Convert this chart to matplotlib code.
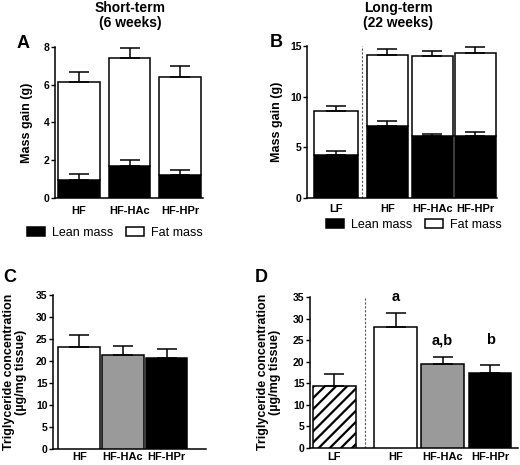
import matplotlib
matplotlib.use('Agg')
import matplotlib.pyplot as plt
from matplotlib.patches import Patch

plt.rcParams['font.family'] = ['Liberation Sans', 'DejaVu Sans']
plt.rcParams['hatch.linewidth'] = 1.6

# Panel A - short-term mass gain (g)
a_groups = ['HF', 'HF-HAc', 'HF-HPr']
a_lean = [0.95, 1.70, 1.22]
a_lean_err = [0.30, 0.30, 0.25]
a_total = [6.15, 7.40, 6.40]
a_total_err = [0.50, 0.55, 0.60]

# Panel B - long-term mass gain (g)
b_groups = ['LF', 'HF', 'HF-HAc', 'HF-HPr']
b_lean = [4.25, 7.10, 6.10, 6.15]
b_lean_err = [0.35, 0.45, 0.20, 0.35]
b_total = [8.60, 14.10, 14.00, 14.35]
b_total_err = [0.50, 0.65, 0.50, 0.55]

# Panel C - short-term triglyceride (ug/mg tissue)
c_groups = ['HF', 'HF-HAc', 'HF-HPr']
c_vals = [23.2, 21.4, 20.6]
c_err = [2.6, 1.9, 2.2]

# Panel D - long-term triglyceride (ug/mg tissue)
d_groups = ['LF', 'HF', 'HF-HAc', 'HF-HPr']
d_vals = [14.4, 28.1, 19.4, 17.3]
d_err = [2.7, 3.2, 1.8, 1.9]
d_letters = ['', 'a', 'a,b', 'b']

W, H = 520, 465
fig = plt.figure(figsize=(W / 100, H / 100), dpi=100)


def px_axes(left, top, right, bottom):
    return fig.add_axes([left / W, 1 - bottom / H, (right - left) / W, (bottom - top) / H])


def style(ax, yticks, xpad=6):
    for s in ['top', 'right']:
        ax.spines[s].set_visible(False)
    for s in ['left', 'bottom']:
        ax.spines[s].set_linewidth(1.1)
    ax.set_yticks(yticks)
    ax.set_ylim(yticks[0], yticks[-1])
    ax.tick_params(axis='y', direction='out', length=3, width=1.0, labelsize=7.5, pad=1)
    ax.tick_params(axis='x', length=0, labelsize=8, pad=xpad)
    for lab in ax.get_xticklabels() + ax.get_yticklabels():
        lab.set_fontweight('bold')


def errs(ax, x, y, e):
    ax.errorbar(x, y, yerr=[[0] * len(e), e], fmt='none', ecolor='black',
                elinewidth=1.1, capsize=7.5, capthick=1.1, zorder=5)


bar_kw = dict(edgecolor='black', linewidth=1.1, zorder=3)

# ---- A
axA = px_axes(55, 47, 203, 198)
xa = [0, 1, 2]
a_fat = [t - l for t, l in zip(a_total, a_lean)]
axA.bar(xa, a_lean, width=0.83, color='black', **bar_kw)
axA.bar(xa, a_fat, bottom=a_lean, width=0.83, color='white', **bar_kw)
errs(axA, xa, a_lean, a_lean_err)
errs(axA, xa, a_total, a_total_err)
axA.set_xlim(-0.475, 2.455)
axA.set_xticks(xa)
axA.set_xticklabels(a_groups)
style(axA, [0, 2, 4, 6, 8])

# ---- B
axB = px_axes(307, 46, 497, 198)
xb = [0.66, 1.83, 2.85, 3.83]
wb = [1.0, 0.93, 0.93, 0.93]
b_fat = [t - l for t, l in zip(b_total, b_lean)]
axB.bar(xb, b_lean, width=wb, color='black', **bar_kw)
axB.bar(xb, b_fat, bottom=b_lean, width=wb, color='white', **bar_kw)
errs(axB, xb, b_lean, b_lean_err)
errs(axB, xb, b_total, b_total_err)
axB.axvline(1.25, color='#555555', lw=0.8, ls=(0, (2, 1.5)), zorder=1)
axB.set_xlim(0, 4.32)
axB.set_xticks(xb)
axB.set_xticklabels(b_groups)
style(axB, [0, 5, 10, 15], xpad=4.5)

# ---- C
axC = px_axes(53, 295, 206, 449)
xc = [0.6, 1.6, 2.6]
axC.bar(xc, c_vals, width=0.95, color=['white', '#9a9a9a', 'black'], **bar_kw)
errs(axC, xc, c_vals, c_err)
axC.set_xlim(0, 3.5)
axC.set_xticks(xc)
axC.set_xticklabels(c_groups)
style(axC, [0, 5, 10, 15, 20, 25, 30, 35], xpad=2.5)

# ---- D
axD = px_axes(310, 297, 518, 448)
xd = [0.52, 1.84, 2.85, 3.87]
bars = axD.bar(xd, d_vals, width=0.92, color=['white', 'white', '#9a9a9a', 'black'], **bar_kw)
bars[0].set_hatch('///')
errs(axD, xd, d_vals, d_err)
axD.axvline(1.19, color='#555555', lw=0.8, ls=(0, (2, 1.5)), zorder=1)
letter_y = [0, 33.4, 23.3, 23.3]
for x, t, y in zip(xd, d_letters, letter_y):
    if t:
        axD.text(x, y, t, ha='center', va='bottom', fontsize=10.5, fontweight='bold')
axD.set_xlim(0, 4.47)
axD.set_xticks(xd)
axD.set_xticklabels(d_groups)
style(axD, [0, 5, 10, 15, 20, 25, 30, 35], xpad=3)


def ftext(x, y, s, **kw):
    fig.text(x / W, 1 - y / H, s, **kw)


# titles and panel letters
ftext(130, 1, 'Short-term\n(6 weeks)', ha='center', va='top', fontsize=10, fontweight='bold', linespacing=1.1)
ftext(398, 1, 'Long-term\n(22 weeks)', ha='center', va='top', fontsize=10, fontweight='bold', linespacing=1.1)
for lx, ly, s in [(17, 48, 'A'), (270, 47, 'B'), (3, 282, 'C'), (255, 282, 'D')]:
    ftext(lx, ly, s, ha='left', va='baseline', fontsize=13, fontweight='bold')

ftext(27, 123, 'Mass gain (g)', rotation=90, ha='center', va='center', fontsize=9, fontweight='bold')
ftext(277, 122, 'Mass gain (g)', rotation=90, ha='center', va='center', fontsize=9, fontweight='bold')
tg = 'Triglyceride concentration\n(\u00b5g/mg tissue)'
ftext(15, 372, tg, rotation=90, ha='center', va='center', fontsize=9, fontweight='bold', linespacing=1.05)
ftext(269, 372, tg, rotation=90, ha='center', va='center', fontsize=9, fontweight='bold', linespacing=1.05)

# legends
handles = [Patch(facecolor='black', edgecolor='black', linewidth=1.1, label='Lean mass'),
           Patch(facecolor='white', edgecolor='black', linewidth=1.1, label='Fat mass')]
for cx, cy in [(115, 233), (414, 225)]:
    fig.legend(handles=handles, loc='center', bbox_to_anchor=(cx / W, 1 - cy / H), ncol=2,
               frameon=False, fontsize=9, handlelength=1.4, handleheight=0.8,
               handletextpad=0.6, columnspacing=1.0, borderpad=0)

fig.savefig('out.png', dpi=100)
